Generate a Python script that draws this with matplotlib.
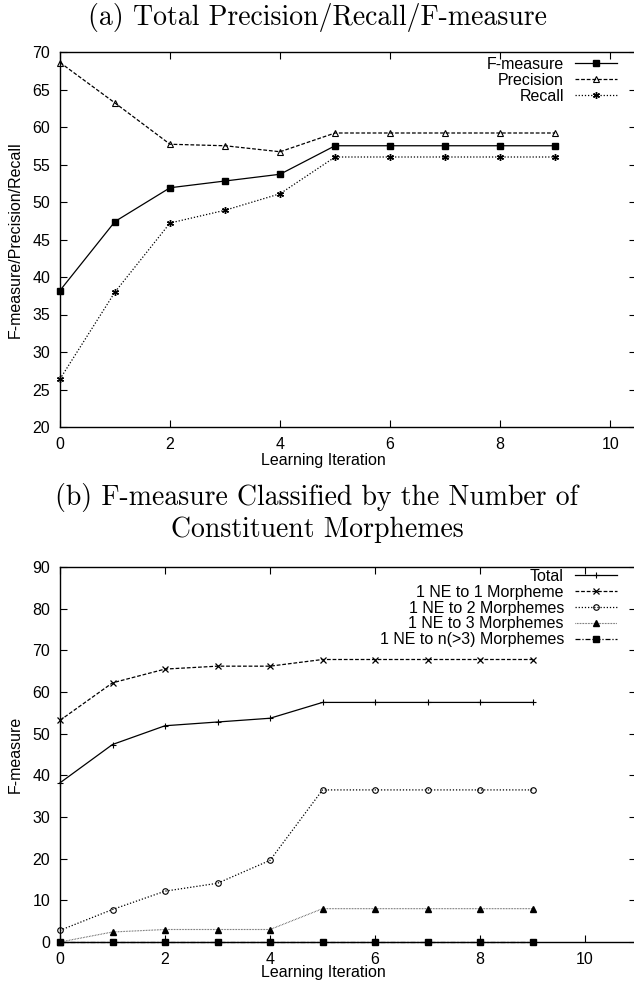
import matplotlib
matplotlib.use("Agg")
import matplotlib.pyplot as plt

iterations = [0, 1, 2, 3, 4, 5, 6, 7, 8, 9]

# (a) totals
f_measure = [38.2, 47.4, 51.9, 52.8, 53.7, 57.5, 57.5, 57.5, 57.5, 57.5]
precision = [68.6, 63.2, 57.7, 57.5, 56.7, 59.2, 59.2, 59.2, 59.2, 59.2]
recall = [26.4, 38.0, 47.2, 48.9, 51.1, 56.0, 56.0, 56.0, 56.0, 56.0]

# (b) by number of constituent morphemes
total = [38.2, 47.4, 51.9, 52.8, 53.7, 57.5, 57.5, 57.5, 57.5, 57.5]
ne_1 = [53.2, 62.2, 65.5, 66.2, 66.2, 67.8, 67.8, 67.8, 67.8, 67.8]
ne_2 = [2.8, 7.8, 12.2, 14.1, 19.6, 36.5, 36.5, 36.5, 36.5, 36.5]
ne_3 = [0.0, 2.4, 3.0, 3.0, 3.0, 8.0, 8.0, 8.0, 8.0, 8.0]
ne_n = [0.0, 0.0, 0.0, 0.0, 0.0, 0.0, 0.0, 0.0, 0.0, 0.0]

plt.rcParams['font.family'] = ['Liberation Sans', 'DejaVu Sans']

fig = plt.figure(figsize=(6.34, 9.85), dpi=100)
W, H = 634.0, 985.0

def axes_px(left, top, right, bottom):
    return fig.add_axes([left / W, 1 - bottom / H, (right - left) / W, (bottom - top) / H])

ax1 = axes_px(60, 52, 636, 427)
ax2 = axes_px(60, 567, 636, 942)

lw = 0.9
k = 'black'

ax1.plot(iterations, f_measure, color=k, lw=lw, ls='-', marker='s', ms=4.5, mfc=k, label='F-measure', clip_on=False)
ax1.plot(iterations, precision, color=k, lw=lw, ls=(0, (3, 1.5)), marker='^', ms=3.8, mfc='none', mew=0.8, label='Precision', clip_on=False)
ax1.plot(iterations, recall, color=k, lw=lw, ls=(0, (1, 1.5)), marker=(6, 2, 0), ms=5, mew=1.0, label='Recall', clip_on=False)

ax2.plot(iterations, total, color=k, lw=lw, ls='-', marker='+', ms=5, mew=0.8, label='Total', clip_on=False)
ax2.plot(iterations, ne_1, color=k, lw=lw, ls=(0, (3, 1.5)), marker='x', ms=4.5, mew=0.9, label='1 NE to 1 Morpheme', clip_on=False)
ax2.plot(iterations, ne_2, color=k, lw=lw, ls=(0, (1, 1.5)), marker='o', ms=4, mfc='none', mew=0.8, label='1 NE to 2 Morphemes', clip_on=False)
ax2.plot(iterations, ne_3, color='#444444', lw=0.8, ls=(0, (0.6, 0.8)), marker='^', ms=4, mfc=k, mec=k, label='1 NE to 3 Morphemes', clip_on=False)
ax2.plot(iterations, ne_n, color=k, lw=lw, ls=(0, (4, 1.5, 1, 1.5)), marker='s', ms=4.5, mfc=k, label='1 NE to n(>3) Morphemes', clip_on=False, zorder=5)

ax1.set_xlim(0, 10.47)
ax1.set_ylim(20, 70)
ax1.set_xticks([0, 2, 4, 6, 8, 10])
ax1.set_yticks(range(20, 71, 5))
ax2.set_xlim(0, 10.97)
ax2.set_ylim(0, 90)
ax2.set_xticks([0, 2, 4, 6, 8, 10])
ax2.set_yticks(range(0, 91, 10))

fs = 11.5
for ax, ly, legy in ((ax1, -(461 - 427) / 375, 0.995), (ax2, -(973 - 942) / 375, 1.003)):
    ax.tick_params(direction='in', length=5, width=0.8, top=True, right=True,
                   labelsize=fs, colors=k)
    ax.tick_params(axis='x', pad=7)
    ax.tick_params(axis='y', pad=7)
    for s in ax.spines.values():
        s.set_linewidth(1.0)
    ax.spines['right'].set_visible(False)
    ax.set_xlabel('Learning Iteration', fontsize=fs)
    ax.xaxis.label.set_va('center')
    ax.xaxis.set_label_coords((323 - 60) / 576, ly)
    leg = ax.legend(loc='upper right', bbox_to_anchor=(0.972, legy), frameon=False,
                    markerfirst=False, fontsize=fs, handlelength=2.6, handletextpad=0.7,
                    labelspacing=0.05, borderaxespad=0, borderpad=0.2, numpoints=1)
    for t in leg.get_texts():
        t.set_ha('right')

ax1.set_ylabel('F-measure/Precision/Recall', fontsize=fs)
ax2.set_ylabel('F-measure', fontsize=fs)
for ax in (ax1, ax2):
    ax.yaxis.label.set_va('center')
    ax.yaxis.set_label_coords((15 - 60) / 576, 0.5)

serif = ['cmr10', 'DejaVu Serif']
fig.text(317 / W, 1 - 17 / H, '(a) Total Precision/Recall/F-measure', ha='center', va='center',
         fontsize=20, family=serif)
fig.text(317 / W, 1 - 497 / H, '(b) F-measure Classified by the Number of', ha='center', va='center',
         fontsize=20, family=serif)
fig.text(317 / W, 1 - 530 / H, 'Constituent Morphemes', ha='center', va='center',
         fontsize=20, family=serif)

fig.savefig('out.png', dpi=100)
